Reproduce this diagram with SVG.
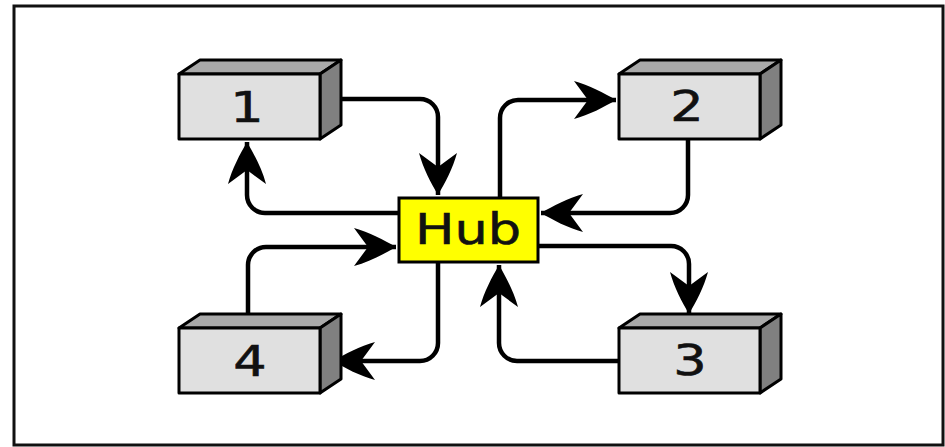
<svg xmlns="http://www.w3.org/2000/svg" width="945" height="447" viewBox="0 0 945 447">
<style>
.front{fill:#e0e0e0;stroke:#000;stroke-width:3;stroke-linejoin:round}
.top{fill:#a9a9a9;stroke:#000;stroke-width:3;stroke-linejoin:round}
.side{fill:#808080;stroke:#000;stroke-width:3;stroke-linejoin:round}
.lbl{font-family:"DejaVu Sans",sans-serif;font-size:42px;fill:#111;stroke:#111;stroke-width:0.6;text-anchor:middle}
.conn{fill:none;stroke:#000;stroke-width:4.5}
</style>
<defs>
<marker id="ah" markerUnits="userSpaceOnUse" viewBox="0 0 42 38" markerWidth="42" markerHeight="38" refX="42" refY="19" orient="auto">
<path d="M42,19 C30,12 15,4 0,0 L14,19 L0,38 C15,34 30,26 42,19 Z" fill="#000"/>
</marker>
<g id="box">
<polygon class="top" points="0,0 21,-14 162,-14 141,0"/>
<polygon class="side" points="141,0 162,-14 162,51 141,65"/>
<rect class="front" x="0" y="0" width="141" height="65"/>
</g>
</defs>
<rect x="14" y="6" width="929" height="439" fill="#fff" stroke="#111" stroke-width="3"/>
<g id="connectors">
<path class="conn" marker-end="url(#ah)" d="M330,99 H420 A18,18 0 0 1 438,117 V195"/>
<path class="conn" marker-end="url(#ah)" d="M400,213 H265 A18,18 0 0 1 247,195 V142"/>
<path class="conn" marker-end="url(#ah)" d="M500,197 V118 A18,18 0 0 1 518,100 H616"/>
<path class="conn" marker-end="url(#ah)" d="M688,139 V195 A18,18 0 0 1 670,213 H541"/>
<path class="conn" marker-end="url(#ah)" d="M538,246 H671 A18,18 0 0 1 689,264 V314"/>
<path class="conn" marker-end="url(#ah)" d="M619,361 H517 A18,18 0 0 1 499,343 V265"/>
<path class="conn" marker-end="url(#ah)" d="M248,322 V265 A18,18 0 0 1 266,247 H396"/>
<path class="conn" marker-end="url(#ah)" d="M438,262 V343 A18,18 0 0 1 420,361 H333"/>
</g>
<g id="node1">
<use href="#box" x="179" y="74"/>
<text class="lbl" transform="translate(247,122) scale(1.25,1)">1</text>
</g>
<g id="node2">
<use href="#box" x="619" y="74"/>
<text class="lbl" transform="translate(687,121) scale(1.25,1)">2</text>
</g>
<g id="node3">
<use href="#box" x="619" y="328"/>
<text class="lbl" transform="translate(690,375) scale(1.25,1)">3</text>
</g>
<g id="node4">
<use href="#box" x="179" y="328"/>
<text class="lbl" transform="translate(250,376) scale(1.25,1)">4</text>
</g>
<g id="hub">
<rect x="399" y="198" width="139" height="64" fill="#ffff00" stroke="#000" stroke-width="3"/>
<text class="lbl" style="font-size:43px" transform="translate(468,244) scale(1.22,1)">Hub</text>
</g>
</svg>
